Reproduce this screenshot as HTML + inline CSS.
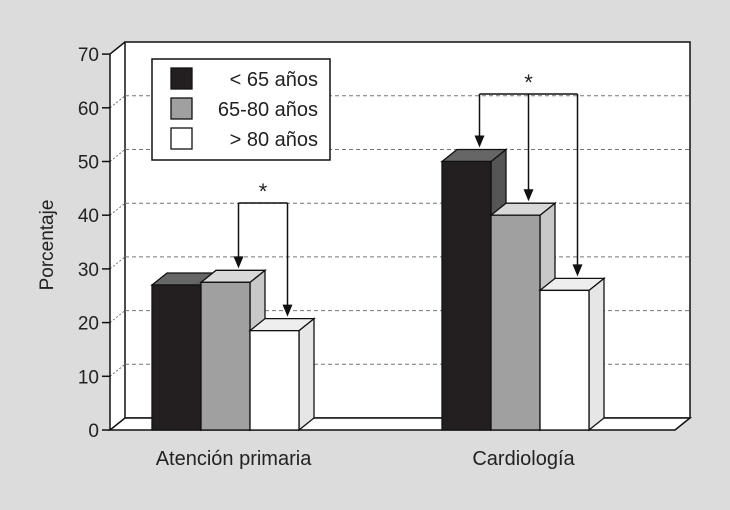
<!DOCTYPE html>
<html><head><meta charset="utf-8"><style>
body{margin:0;background:#dcdcdc;}
svg{display:block;font-family:"Liberation Sans",sans-serif;}
</style></head><body>
<svg id="c" width="730" height="510"></svg>
<script>
const categories=["Atención primaria","Cardiología"];
const seriesNames=["< 65 años","65-80 años","> 80 años"];
const s1=[27,50];
const s2=[27.5,40];
const s3=[18.5,26];
const yTicks=[0,10,20,30,40,50,60,70];
const NS="http://www.w3.org/2000/svg";
const svg=document.getElementById('c');
function el(t,a,p){const e=document.createElementNS(NS,t);for(const k in a)e.setAttribute(k,a[k]);(p||svg).appendChild(e);return e;}
const y0=430,k=5.37,DX=15,DY=12;
function y(v){return y0-v*k;}
el('rect',{x:0,y:0,width:730,height:510,fill:'#dcdcdc'});
const wall=el('polygon',{points:`${110+DX},${42} ${690},42 690,${y0-DY} 675,${y0} 110,${y0} 110,${y(70)}`,fill:'#fff'});

el('rect',{x:110+DX,y:42,width:690-110-DX,height:y0-DY-42,fill:'#fff',stroke:'#111','stroke-width':1.5});
yTicks.forEach(v=>{
  if(v>0&&v<70){
    const g=el('line',{x1:110+DX,x2:690,y1:y(v)-DY,y2:y(v)-DY,stroke:'#777','stroke-dasharray':'4,3','stroke-width':1});
    
    el('line',{x1:110,y1:y(v),x2:110+DX,y2:y(v)-DY,stroke:'#777','stroke-dasharray':'2,2'});
  }
  el('line',{x1:102,x2:110,y1:y(v),y2:y(v),stroke:'#111','stroke-width':1.5});
  const t=el('text',{x:99,y:y(v)+7,'text-anchor':'end','font-size':19,fill:'#222'});
  t.textContent=v;
  
});
el('polygon',{points:`110,${y0} ${110+DX},${y0-DY} 690,${y0-DY} 675,${y0}`,fill:'#fff',stroke:'#111','stroke-width':1.5});
el('line',{x1:110,y1:y0,x2:110,y2:y(70),stroke:'#111','stroke-width':1.5});
el('line',{x1:110,y1:y(70),x2:110+DX,y2:42,stroke:'#111','stroke-width':1.5});
const groupX=[152,442],bw=49;
const fills=[['#231f20','#555','#666'],['#a0a0a0','#c8c8c8','#d8d8d8'],['#fff','#e6e6e6','#eee']];
const series=[s1,s2,s3];
categories.forEach((c,i)=>{
  series.forEach((s,j)=>{
    const x=groupX[i]+j*bw,top=y(s[i]);
    const g=el('g',{});
    
    el('polygon',{points:`${x+bw},${y0} ${x+bw},${top} ${x+bw+DX},${top-DY} ${x+bw+DX},${y0-DY}`,fill:fills[j][1],stroke:'#111','stroke-width':1.3},g);
    el('polygon',{points:`${x},${top} ${x+DX},${top-DY} ${x+bw+DX},${top-DY} ${x+bw},${top}`,fill:fills[j][2],stroke:'#111','stroke-width':1.3},g);
    el('rect',{x:x,y:top,width:bw,height:y0-top,fill:fills[j][0],stroke:'#111','stroke-width':1.3},g);
  });
  const t=el('text',{x:groupX[i]+1.5*bw+8,y:465,'text-anchor':'middle','font-size':20,fill:'#222'});
  t.textContent=c;
});
function arrow(x,yt,yb){
  el('line',{x1:x,y1:yt,x2:x,y2:yb-9,stroke:'#111','stroke-width':1.5});
  el('polygon',{points:`${x-5},${yb-12} ${x+5},${yb-12} ${x},${yb}`,fill:'#111'});
}
function bracket(i,js,yl){
  const xs=js.map(j=>groupX[i]+j*bw+bw/2+13);
  el('line',{x1:Math.min(...xs),x2:Math.max(...xs),y1:yl,y2:yl,stroke:'#111','stroke-width':1.5});
  js.forEach((j,n)=>arrow(xs[n],yl,y(series[j][i])-DY-2));
  const t=el('text',{x:(Math.min(...xs)+Math.max(...xs))/2,y:yl-4,'text-anchor':'middle','font-size':22,fill:'#222'});
  t.textContent='*';
}
bracket(0,[1,2],203);
bracket(1,[0,1,2],94);
const lg=el('g',{});
el('rect',{x:152,y:59,width:178,height:101,fill:'#fff',stroke:'#111','stroke-width':1.5},lg);
seriesNames.forEach((n,j)=>{
  const ly=68+j*30;
  el('rect',{x:171,y:ly,width:21,height:21,fill:fills[j][0],stroke:'#111','stroke-width':1.3},lg);
  const t=el('text',{x:318,y:ly+18,'text-anchor':'end','font-size':20,fill:'#222'},lg);
  t.textContent=n;
});
const yl=el('text',{x:0,y:0,transform:'translate(53,245) rotate(-90)','text-anchor':'middle','font-size':19,fill:'#222'});
yl.textContent='Porcentaje';
</script>
</body></html>
